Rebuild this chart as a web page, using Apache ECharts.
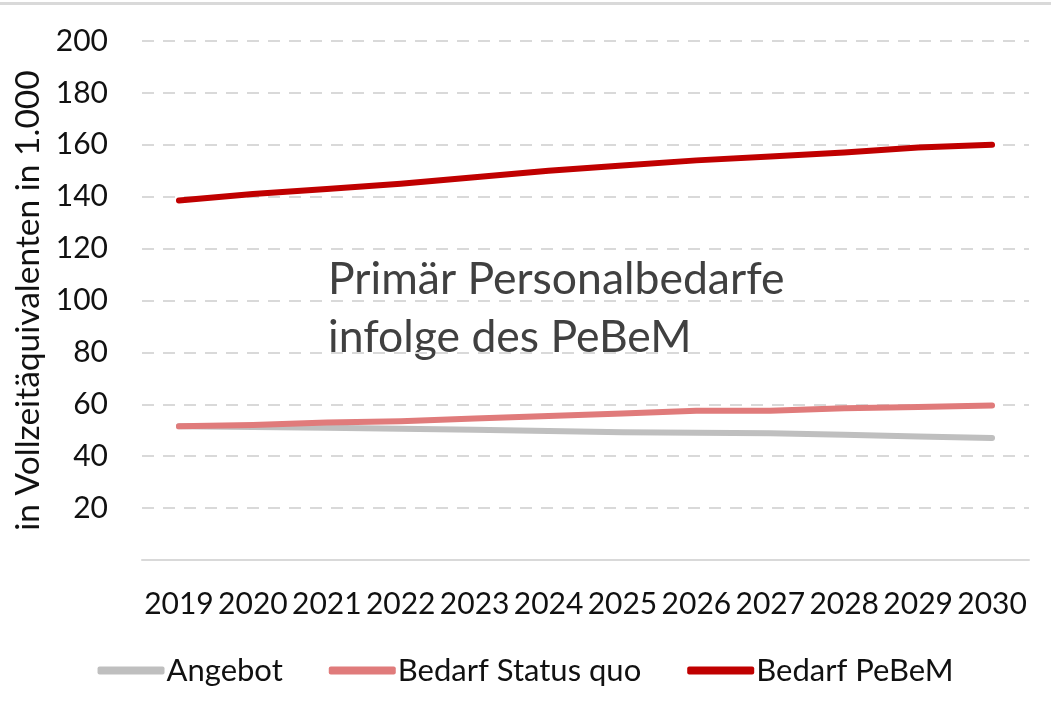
<!DOCTYPE html>
<html>
<head>
<meta charset="utf-8">
<script src="https://cdn.jsdelivr.net/npm/echarts@6/dist/echarts.min.js"></script>
<style>html,body{margin:0;padding:0;background:#fff}#c{width:1051px;height:715px}</style>
</head>
<body>
<div id="c"></div>
<script>
var years = ['2019','2020','2021','2022','2023','2024','2025','2026','2027','2028','2029','2030'];
var angebot = [51.5, 51.3, 51, 50.6, 50.2, 49.7, 49.2, 49, 48.8, 48.3, 47.6, 47];
var statusQuo = [51.5, 52, 53, 53.5, 54.5, 55.5, 56.5, 57.5, 57.5, 58.5, 59, 59.5];
var pebem = [138.5, 141, 143, 145, 147.5, 150, 152, 154, 155.5, 157, 159, 160];
var seriesNames = ['Angebot', 'Bedarf Status quo', 'Bedarf PeBeM'];
var seriesColors = ['#BFBFBF', '#E07B7B', '#C00000'];
var yTitle = 'in Vollzeitäquivalenten in 1.000';
var annotation = 'Primär Personalbedarfe\ninfolge des PeBeM';

var font = 'Lato, "Open Sans", sans-serif';
var chart = echarts.init(document.getElementById('c'));
function mk(name, data, color) {
  return {
    name: name, type: 'line', data: data, symbol: 'none',
    lineStyle: { color: color, width: 6, cap: 'round', join: 'round' },
    itemStyle: { color: color }
  };
}
chart.setOption({
  animation: false,
  grid: { left: 142, right: 22, top: 41, bottom: 155 },
  xAxis: {
    type: 'category', data: years, boundaryGap: true,
    axisLine: { lineStyle: { color: '#d9d9d9', width: 2 } },
    axisTick: { show: false },
    axisLabel: { fontFamily: font, fontSize: 30, color: '#111', margin: 29, interval: 0 }
  },
  yAxis: {
    type: 'value', min: 0, max: 200, interval: 20,
    name: yTitle, nameLocation: 'middle', nameGap: 97, nameRotate: 90,
    nameTextStyle: { fontFamily: font, fontSize: 33.5, color: '#111' },
    axisLine: { show: false }, axisTick: { show: false },
    axisLabel: { fontFamily: font, fontSize: 30, color: '#111', margin: 34,
      formatter: function (v) { return v === 0 ? '' : String(v); } },
    splitLine: { lineStyle: { color: '#d9d9d9', width: 2, type: [12, 9] } }
  },
  legend: {
    bottom: 24, left: 'center', itemWidth: 67, itemHeight: 8, itemGap: 46,
    icon: 'roundRect',
    textStyle: { fontFamily: font, fontSize: 31, color: '#111', padding: [0, 0, 0, -3] },
    data: seriesNames
  },
  graphic: [
    { type: 'rect', left: 0, top: 2, shape: { width: 1051, height: 3 }, style: { fill: '#d9d9d9' } },
    { type: 'text', left: 328, top: 251, style: { text: annotation, fontFamily: font, fontSize: 44.5, lineHeight: 58, fill: '#404040' } }
  ],
  series: [
    mk(seriesNames[0], angebot, seriesColors[0]),
    mk(seriesNames[1], statusQuo, seriesColors[1]),
    mk(seriesNames[2], pebem, seriesColors[2])
  ]
});
</script>
</body>
</html>
